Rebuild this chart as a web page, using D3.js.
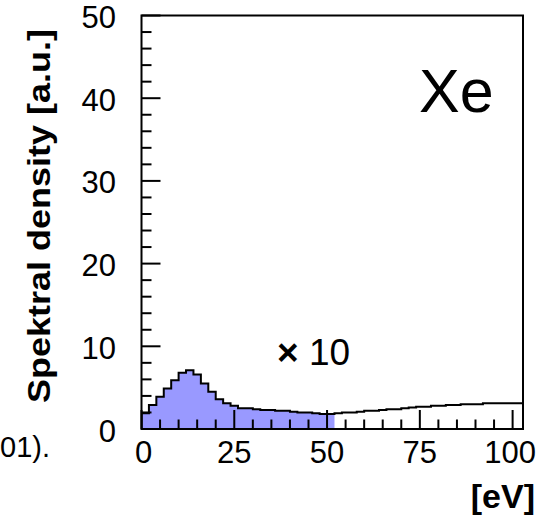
<!DOCTYPE html>
<html>
<head>
<meta charset="utf-8">
<script src="https://cdn.jsdelivr.net/npm/d3@7"></script>
<style>
  body { margin: 0; background: #fff; }
  svg { display: block; }
  text { font-family: "Liberation Sans", Arial, sans-serif; }
</style>
</head>
<body>
<svg id="chart"></svg>
<script>
// histogram, 2 eV bins starting at 0
const binWidth = 2;
const counts = [
  1.9, 2.9, 3.9, 4.9, 5.9, 6.8, 7.1, 6.6, 5.5, 4.5,
  3.6, 3.1, 2.8, 2.5, 2.5, 2.4, 2.3, 2.3, 2.2, 2.2,
  2.1, 2.0, 2.0, 1.9, 1.8, 1.8, 1.9, 2.0, 2.0, 2.1,
  2.2, 2.2, 2.3, 2.4, 2.4, 2.5, 2.6, 2.7, 2.7, 2.8,
  2.8, 2.9, 2.9, 3.0, 3.0, 3.0, 3.1, 3.1, 3.1, 3.1,
  3.1, 3.1
];
const fillUpTo = 52;          // shaded part ends here (eV)
const xTicks = [0, 25, 50, 75, 100];
const yTicks = [0, 10, 20, 30, 40, 50];

const width = 537, height = 516;
const svg = d3.select("#chart").attr("width", width).attr("height", height);

const x = d3.scaleLinear().domain([0, 102.8]).range([141.5, 523]);
const y = d3.scaleLinear().domain([0, 50]).range([429, 15.5]);

const bins = counts.map((v, i) => ({ x0: i * binWidth, x1: (i + 1) * binWidth, v }));

svg.append("clipPath").attr("id", "plot")
  .append("rect")
  .attr("x", x(0)).attr("y", y(50))
  .attr("width", x(102.8) - x(0)).attr("height", y(0) - y(50));

const g = svg.append("g").attr("clip-path", "url(#plot)");

// shaded area
const filled = bins.filter(b => b.x0 < fillUpTo);
const areaPts = [];
filled.forEach(b => { areaPts.push([b.x0, b.v]); areaPts.push([b.x1, b.v]); });
g.append("path")
  .datum(areaPts)
  .attr("fill", "#9999ff")
  .attr("d", d3.area().x(d => x(d[0])).y0(y(0)).y1(d => y(d[1])));

// step outline
const linePts = [[0, 0]];
bins.forEach(b => { linePts.push([b.x0, b.v]); linePts.push([b.x1, b.v]); });
g.append("path")
  .datum(linePts)
  .attr("fill", "none")
  .attr("stroke", "#000")
  .attr("stroke-width", 2)
  .attr("d", d3.line().x(d => x(d[0])).y(d => y(d[1])));

// ticks (inside, ROOT style)
const xMinor = d3.range(0, 103, 5);
svg.append("g").selectAll("line")
  .data(xMinor).join("line")
  .attr("x1", d => x(d)).attr("x2", d => x(d))
  .attr("y1", y(0)).attr("y2", d => y(0) - (d % 25 === 0 ? 19 : 9.5))
  .attr("stroke", "#000").attr("stroke-width", 2);

const yMinor = d3.range(0, 51, 2);
svg.append("g").selectAll("line")
  .data(yMinor).join("line")
  .attr("y1", d => y(d)).attr("y2", d => y(d))
  .attr("x1", x(0)).attr("x2", d => x(0) + (d % 10 === 0 ? 19 : 10))
  .attr("stroke", "#000").attr("stroke-width", 2);

// frame
svg.append("rect")
  .attr("x", x(0)).attr("y", y(50))
  .attr("width", x(102.8) - x(0)).attr("height", y(0) - y(50))
  .attr("fill", "none").attr("stroke", "#000").attr("stroke-width", 2);

// tick labels
svg.append("g").selectAll("text")
  .data(xTicks).join("text")
  .attr("x", d => d === 100 ? 536 : x(d) + (d === 0 ? 2 : 0)).attr("y", 463)
  .attr("text-anchor", d => d === 100 ? "end" : "middle")
  .attr("font-size", 31)
  .text(d => d);

svg.append("g").selectAll("text")
  .data(yTicks).join("text")
  .attr("x", 116).attr("y", d => y(d) + 12.5)
  .attr("text-anchor", "end")
  .attr("font-size", 31)
  .text(d => d);

// axis titles
svg.append("text")
  .attr("transform", "translate(50,216) rotate(-90)")
  .attr("text-anchor", "middle")
  .attr("font-size", 31).attr("font-weight", "bold")
  .attr("textLength", 374).attr("lengthAdjust", "spacingAndGlyphs")
  .text("Spektral density [a.u.]");

svg.append("text")
  .attr("x", 535).attr("y", 508)
  .attr("text-anchor", "end")
  .attr("font-size", 34).attr("font-weight", "bold")
  .text("[eV]");

// annotations
svg.append("text")
  .attr("x", 419).attr("y", 112)
  .attr("font-size", 61)
  .text("Xe");

const t = svg.append("text").attr("x", 277).attr("y", 365).attr("font-size", 37);
t.append("tspan").attr("font-weight", "bold").text("×");
t.append("tspan").text(" 10");

// fragment of surrounding page text
svg.append("text")
  .attr("x", 0).attr("y", 457)
  .attr("font-size", 29)
  .attr("font-family", "'Open Sans', sans-serif")
  .text("01).");
</script>
</body>
</html>
